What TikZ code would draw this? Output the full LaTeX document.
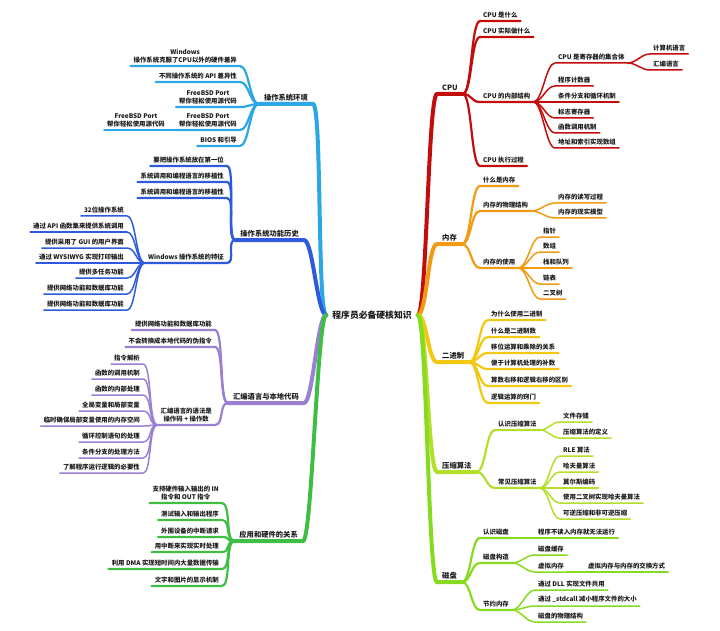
\documentclass[tikz,border=0pt]{standalone}
\usepackage{fontspec}
\setmainfont{Noto Sans CJK SC}
\usetikzlibrary{positioning}
\definecolor{ink}{HTML}{1A1A1A}
\definecolor{osenv}{HTML}{2BA6E6}
\definecolor{oshist}{HTML}{2D5BDC}
\definecolor{asm}{HTML}{9A80D2}
\definecolor{app}{HTML}{3EBF44}
\definecolor{cpu}{HTML}{C30D0D}
\definecolor{mem}{HTML}{F29B12}
\definecolor{bin}{HTML}{F3C813}
\definecolor{zip}{HTML}{B3DF2B}
\definecolor{disk}{HTML}{86DA20}
\newcommand{\leaffont}{\fontsize{6.4}{7.4}\selectfont\bfseries}
\newcommand{\topicfont}{\fontsize{7.3}{8.5}\selectfont\bfseries}
\newcommand{\rootfont}{\fontsize{8.8}{10}\selectfont\bfseries}
\tikzset{
  every node/.style={font=\leaffont,text=ink,inner xsep=3pt,inner ysep=3pt,align=center},
  rt/.style={anchor=south west},
  lt/.style={anchor=south east},
  topic/.style={font=\topicfont,inner xsep=5pt},
  trunk/.style={line width=4pt,line cap=round},
  twig/.style={line width=2.2pt,line cap=round},
  leaf/.style={line width=1.5pt,line cap=round},
  toR/.style={out=0,in=180,distance=9pt},
  toL/.style={out=180,in=0,distance=9pt},
}

\begin{document}
\begin{tikzpicture}[x=1pt,y=-1pt]
\useasboundingbox (0,0) rectangle (720,631);

\node[font=\rootfont,inner xsep=6pt] (root) at (372,315) {程序员必备硬核知识};

% right: CPU
\node[topic,rt] (cpu) at (437,94) {CPU};
\draw[trunk,draw=cpu] (root.east) to[toR] (cpu.south west) -- (cpu.south east);
\foreach \name/\y/\txt in {cpuA/21/CPU 是什么, cpuB/37/CPU 实际做什么, cpuC/102/CPU 的内部结构, cpuD/166/CPU 执行过程}{
  \node[rt] (\name) at (480,\y) {\txt};
  \draw[twig,draw=cpu] (cpu.south east) to[toR] (\name.south west) -- (\name.south east);
}
\foreach \name/\y/\txt in {cpuC1/63/CPU 是寄存器的集合体, cpuC2/86/程序计数器, cpuC3/102/条件分支和循环机制, cpuC4/118/标志寄存器, cpuC5/133/函数调用机制, cpuC6/148/地址和索引实现数组}{
  \node[rt] (\name) at (555,\y) {\txt};
  \draw[leaf,draw=cpu] (cpuC.south east) to[toR] (\name.south west) -- (\name.south east);
}
\foreach \name/\y/\txt in {cpuCa/54/计算机语言, cpuCb/70/汇编语言}{
  \node[rt] (\name) at (650,\y) {\txt};
  \draw[leaf,draw=cpu] (cpuC1.south east) to[toR] (\name.south west) -- (\name.south east);
}

% right: memory
\node[topic,rt] (mem) at (437,244) {内存};
\draw[trunk,draw=mem] (root.east) to[toR] (mem.south west) -- (mem.south east);
\foreach \name/\y/\txt in {memA/186/什么是内存, memB/211/内存的物理结构, memC/268/内存的使用}{
  \node[rt] (\name) at (480,\y) {\txt};
  \draw[twig,draw=mem] (mem.south east) to[toR] (\name.south west) -- (\name.south east);
}
\foreach \name/\y/\txt in {memB1/203/内存的读写过程, memB2/218/内存的现实模型}{
  \node[rt] (\name) at (555,\y) {\txt};
  \draw[leaf,draw=mem] (memB.south east) to[toR] (\name.south west) -- (\name.south east);
}
\foreach \name/\y/\txt in {memC1/237/指针, memC2/252/数组, memC3/268/栈和队列, memC4/284/链表, memC5/299/二叉树}{
  \node[rt] (\name) at (540,\y) {\txt};
  \draw[leaf,draw=mem] (memC.south east) to[toR] (\name.south west) -- (\name.south east);
}

% right: binary
\node[topic,rt] (bin) at (437,362) {二进制};
\draw[trunk,draw=bin] (root.east) to[toR] (bin.south west) -- (bin.south east);
\foreach \name/\y/\txt in {binA/320/为什么使用二进制, binB/337/什么是二进制数, binC/353/移位运算和乘除的关系, binD/369/便于计算机处理的补数, binE/386/算数右移和逻辑右移的区别, binF/403/逻辑运算的窍门}{
  \node[rt] (\name) at (488,\y) {\txt};
  \draw[twig,draw=bin] (bin.south east) to[toR] (\name.south west) -- (\name.south east);
}

% right: compression
\node[topic,rt] (zip) at (437,472) {压缩算法};
\draw[trunk,draw=zip] (root.east) to[toR] (zip.south west) -- (zip.south east);
\foreach \name/\y/\txt in {zipA/430/认识压缩算法, zipB/488/常见压缩算法}{
  \node[rt] (\name) at (495,\y) {\txt};
  \draw[twig,draw=zip] (zip.south east) to[toR] (\name.south west) -- (\name.south east);
}
\foreach \name/\y/\txt in {zipA1/422/文件存储, zipA2/438/压缩算法的定义}{
  \node[rt] (\name) at (560,\y) {\txt};
  \draw[leaf,draw=zip] (zipA.south east) to[toR] (\name.south west) -- (\name.south east);
}
\foreach \name/\y/\txt in {zipB1/456/RLE 算法, zipB2/472/哈夫曼算法, zipB3/488/莫尔斯编码, zipB4/503/使用二叉树实现哈夫曼算法, zipB5/519/可逆压缩和非可逆压缩}{
  \node[rt] (\name) at (560,\y) {\txt};
  \draw[leaf,draw=zip] (zipB.south east) to[toR] (\name.south west) -- (\name.south east);
}

% right: disk
\node[topic,rt] (disk) at (437,582) {磁盘};
\draw[trunk,draw=disk] (root.east) to[toR] (disk.south west) -- (disk.south east);
\foreach \name/\y/\txt in {diskA/538/认识磁盘, diskB/563/磁盘构造, diskC/610/节约内存}{
  \node[rt] (\name) at (480,\y) {\txt};
  \draw[twig,draw=disk] (disk.south east) to[toR] (\name.south west) -- (\name.south east);
}
\node[rt] (diskA1) at (535,538) {程序不读入内存就无法运行};
\draw[leaf,draw=disk] (diskA.south east) to[toR] (diskA1.south west) -- (diskA1.south east);
\foreach \name/\y/\txt in {diskB1/555/磁盘缓存, diskB2/572/虚拟内存}{
  \node[rt] (\name) at (535,\y) {\txt};
  \draw[leaf,draw=disk] (diskB.south east) to[toR] (\name.south west) -- (\name.south east);
}
\node[rt] (diskB21) at (585,572) {虚拟内存与内存的交换方式};
\draw[leaf,draw=disk] (diskB2.south east) to[toR] (diskB21.south west) -- (diskB21.south east);
\foreach \name/\y/\txt in {diskC1/590/通过 DLL 实现文件共用, diskC2/606/通过 \_stdcall 减小程序文件的大小, diskC3/622/磁盘的物理结构}{
  \node[rt] (\name) at (535,\y) {\txt};
  \draw[leaf,draw=disk] (diskC.south east) to[toR] (\name.south west) -- (\name.south east);
}

% left: OS environment
\node[topic,lt] (osenv) at (313,104) {操作系统环境};
\draw[trunk,draw=osenv] (root.west) to[toL] (osenv.south east) -- (osenv.south west);
\foreach \name/\y/\txt in {osA/66/{Windows\\操作系统克服了CPU以外的硬件差异}, osB/82/不同操作系统的 API 差异性, osC/107/{FreeBSD Port\\帮你轻松使用源代码}, osD/130/{FreeBSD Port\\帮你轻松使用源代码}, osE/146/BIOS 和引导}{
  \node[lt] (\name) at (240,\y) {\txt};
  \draw[twig,draw=osenv] (osenv.south west) to[toL] (\name.south east) -- (\name.south west);
}
\node[lt] (osD1) at (168,130) {FreeBSD Port\\帮你轻松使用源代码};
\draw[leaf,draw=osenv] (osD.south west) to[toL] (osD1.south east) -- (osD1.south west);

% left: OS history
\node[topic,lt] (oshist) at (304,240) {操作系统功能历史};
\draw[trunk,draw=oshist] (root.west) to[toL] (oshist.south east) -- (oshist.south west);
\foreach \name/\y/\txt in {ohA/166/要把操作系统放在第一位, ohB/182/系统调用和编程语言的移植性, ohC/198/系统调用和编程语言的移植性, ohD/263/Windows 操作系统的特征}{
  \node[lt] (\name) at (227,\y) {\txt};
  \draw[twig,draw=oshist] (oshist.south west) to[toL] (\name.south east) -- (\name.south west);
}
\foreach \name/\y/\txt in {ohD1/216/32位操作系统, ohD2/232/通过 API 函数集来提供系统调用, ohD3/248/提供采用了 GUI 的用户界面, ohD4/263/通过 WYSIWYG 实现打印输出, ohD5/278/提供多任务功能, ohD6/294/提供网络功能和数据库功能, ohD7/310/提供网络功能和数据库功能}{
  \node[lt] (\name) at (127,\y) {\txt};
  \draw[leaf,draw=oshist] (ohD.south west) to[toL] (\name.south east) -- (\name.south west);
}

% left: assembly
\node[topic,lt] (asm) at (304,403) {汇编语言与本地代码};
\draw[trunk,draw=asm] (root.west) to[toL] (asm.south east) -- (asm.south west);
\foreach \name/\y/\txt in {asmA/330/提供网络功能和数据库功能, asmB/347/不会转换成本地代码的伪指令, asmC/425/{汇编语言的语法是\\操作码 + 操作数}}{
  \node[lt] (\name) at (215,\y) {\txt};
  \draw[twig,draw=asm] (asm.south west) to[toL] (\name.south east) -- (\name.south west);
}
\foreach \name/\y/\txt in {asmC1/364/指令解析, asmC2/379/函数的调用机制, asmC3/395/函数的内部处理, asmC4/411/全局变量和局部变量, asmC5/426/临时确保局部变量使用的内存空间, asmC6/442/循环控制语句的处理, asmC7/458/条件分支的处理方法, asmC8/473/了解程序运行逻辑的必要性}{
  \node[lt] (\name) at (143,\y) {\txt};
  \draw[leaf,draw=asm] (asmC.south west) to[toL] (\name.south east) -- (\name.south west);
}

% left: applications and hardware
\node[topic,lt] (app) at (303,541) {应用和硬件的关系};
\draw[trunk,draw=app] (root.west) to[toL] (app.south east) -- (app.south west);
\foreach \name/\y/\txt in {appA/503/{支持硬件输入输出的 IN\\指令和 OUT 指令}, appB/520/测试输入和输出程序, appC/537/外围设备的中断请求, appD/552/用中断来实现实时处理, appE/569/利用 DMA 实现短时间内大量数据传输, appF/586/文字和图片的显示机制}{
  \node[lt] (\name) at (222,\y) {\txt};
  \draw[twig,draw=app] (app.south west) to[toL] (\name.south east) -- (\name.south west);
}

\end{tikzpicture}
\end{document}
